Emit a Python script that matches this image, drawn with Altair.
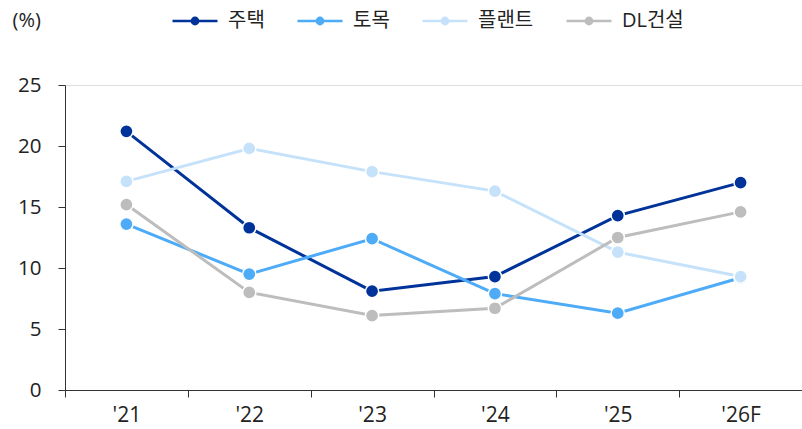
import altair as alt
import pandas as pd

years = ["'21", "'22", "'23", "'24", "'25", "'26F"]
series = ["주택", "토목", "플랜트", "DL건설"]
housing = [21.2, 13.3, 8.1, 9.3, 14.3, 17.0]
civil = [13.6, 9.5, 12.4, 7.9, 6.3, 9.2]
plant = [17.1, 19.8, 17.9, 16.3, 11.3, 9.3]
dl = [15.2, 8.0, 6.1, 6.7, 12.5, 14.6]
colors = ["#003399", "#4DABF7", "#C6E2FB", "#BDBDBD"]

rows = []
for name, vals in zip(series, [housing, civil, plant, dl]):
    for y, v in zip(years, vals):
        rows.append({"year": y, "series": name, "value": v})
df = pd.DataFrame(rows)

FONT = "Open Sans, Noto Sans CJK KR, sans-serif"

legend_path = ("M-1,0H1"
               "M-0.14,0A0.14,0.14,0,1,0,0.14,0A0.14,0.14,0,1,0,-0.14,0Z")

legend = alt.Legend(
    orient="none", direction="horizontal", legendX=106, legendY=-88,
    title=None, symbolType=legend_path, symbolSize=2025,
    symbolStrokeWidth=2.5, labelFontSize=20, labelFont=FONT,
    labelColor="#222222", columnPadding=27, labelOffset=9,
)
scale = alt.Scale(domain=series, range=colors)

x = alt.X(
    "year:N", sort=years, title=None,
    scale=alt.Scale(paddingInner=0, paddingOuter=0),
    axis=alt.Axis(labelAngle=0, tickBand="extent", tickSize=7, labelPadding=7,
                  labelFontSize=21, labelFont=FONT, labelColor="#222222",
                  domainColor="#333333", tickColor="#333333", grid=False),
)
y = alt.Y(
    "value:Q",
    scale=alt.Scale(domain=[0, 25]),
    axis=alt.Axis(values=[0, 5, 10, 15, 20, 25], tickSize=7, labelPadding=17,
                  labelFontSize=20.5, labelFont=FONT, labelColor="#222222",
                  domainColor="#333333", tickColor="#333333", grid=False,
                  title="(%)", titleAngle=0, titleX=-53, titleY=-65,
                  titleAlign="left", titleBaseline="middle", titleFontSize=20,
                  titleFont=FONT, titleFontWeight="normal", titleColor="#222222"),
)

base = alt.Chart(df)
lines = base.mark_line(strokeWidth=3).encode(
    x=x, y=y, color=alt.Color("series:N", sort=series, scale=scale, legend=legend),
    order=alt.Order("year:N"))
points = base.mark_point(filled=True, size=175, opacity=1, stroke="white",
                         strokeWidth=1.5).encode(
    x=x, y=y, color=alt.Color("series:N", sort=series, scale=scale, legend=legend))

chart = alt.layer(lines, points).properties(
    width=737, height=305,
    autosize=alt.AutoSizeParams(type="none"),
    padding={"left": 65, "top": 85, "right": 0, "bottom": 39},
).configure_view(stroke=None).configure(background="white")

chart.save("out.html", embed_options={"renderer": "svg", "actions": False})
